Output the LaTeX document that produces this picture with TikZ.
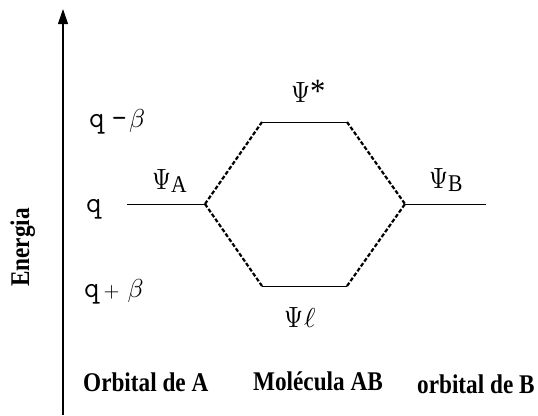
\documentclass[tikz,border=0pt]{standalone}
\usepackage{fontspec}
\usetikzlibrary{arrows.meta}
\newfontfamily\labfont[FakeStretch=0.86]{Liberation Serif}
\newfontfamily\psifont[FakeStretch=0.9]{Liberation Serif}
\newcommand\Ps{\resizebox{19pt}{20pt}{$\Psi$}}
\newcommand\Sb[1]{\raisebox{-3pt}{\psifont\fontsize{24}{24}\selectfont #1}}
\newcommand\Qq{{\ttfamily\fontsize{30}{30}\selectfont q}}
\newcommand\Bt{\resizebox{!}{18pt}{$\beta$}}
\begin{document}
\begin{tikzpicture}[x=1pt,y=-1pt,
  level/.style={line width=1pt},
  link/.style={line width=2.2pt, dash pattern=on 4pt off 2pt},
  lab/.style={inner sep=0pt, anchor=base west, font=\labfont\bfseries\fontsize{27}{30}\selectfont},
  txt/.style={inner sep=0pt, anchor=base west}]
\useasboundingbox (0,0) rectangle (538,415);
% axis
\coordinate (axb) at (63,415);
\coordinate (axt) at (63,9);
\draw[line width=1.2pt, -{Triangle[length=15pt,width=10pt]}] (axb) -- (axt);
% levels
\coordinate (A1) at (127,204);
\coordinate (A2) at (205,204);
\coordinate (S1) at (262,122);
\coordinate (S2) at (347,122);
\coordinate (L1) at (262,286);
\coordinate (L2) at (347,286);
\coordinate (B1) at (405,204);
\coordinate (B2) at (486,204);
\draw[level] (A1) -- (A2);
\draw[level] (S1) -- (S2);
\draw[level] (L1) -- (L2);
\draw[level] (B1) -- (B2);
\draw[link] (A2) -- (S1);
\draw[link] (A2) -- (L1);
\draw[link] (S2) -- (B1);
\draw[link] (L2) -- (B1);
% energy labels
\node[txt] (qm) at (89,127) {\Qq\kern7pt{\ttfamily\fontsize{30}{30}\selectfont -}\kern2pt\Bt};
\node[txt] (q0) at (86,212) {\Qq};
\node[txt] (qp) at (84,297) {\Qq\kern4pt\resizebox{16pt}{!}{$+$}\kern8pt\Bt};
% orbital labels
\node[txt] (psiA) at (152,189) {\Ps\Sb{A}};
\node[txt] (psiS) at (291,102) {\Ps\raisebox{0pt}{\psifont\fontsize{34}{34}\selectfont *}};
\node[txt] (psiB) at (429,188) {\Ps\Sb{B}};
\node[txt] (psiL) at (284,327) {\Ps\kern1pt\resizebox{!}{19pt}{$\ell$}};
% bottom labels
\node[lab] (orbA) at (83,391) {Orbital de A};
\node[lab] (molAB) at (253,390) {Molécula AB};
\node[lab] (orbB) at (417,393) {orbital de B};
\node[lab, rotate=90] (en) at (29,287) {Energia};
\end{tikzpicture}
\end{document}
